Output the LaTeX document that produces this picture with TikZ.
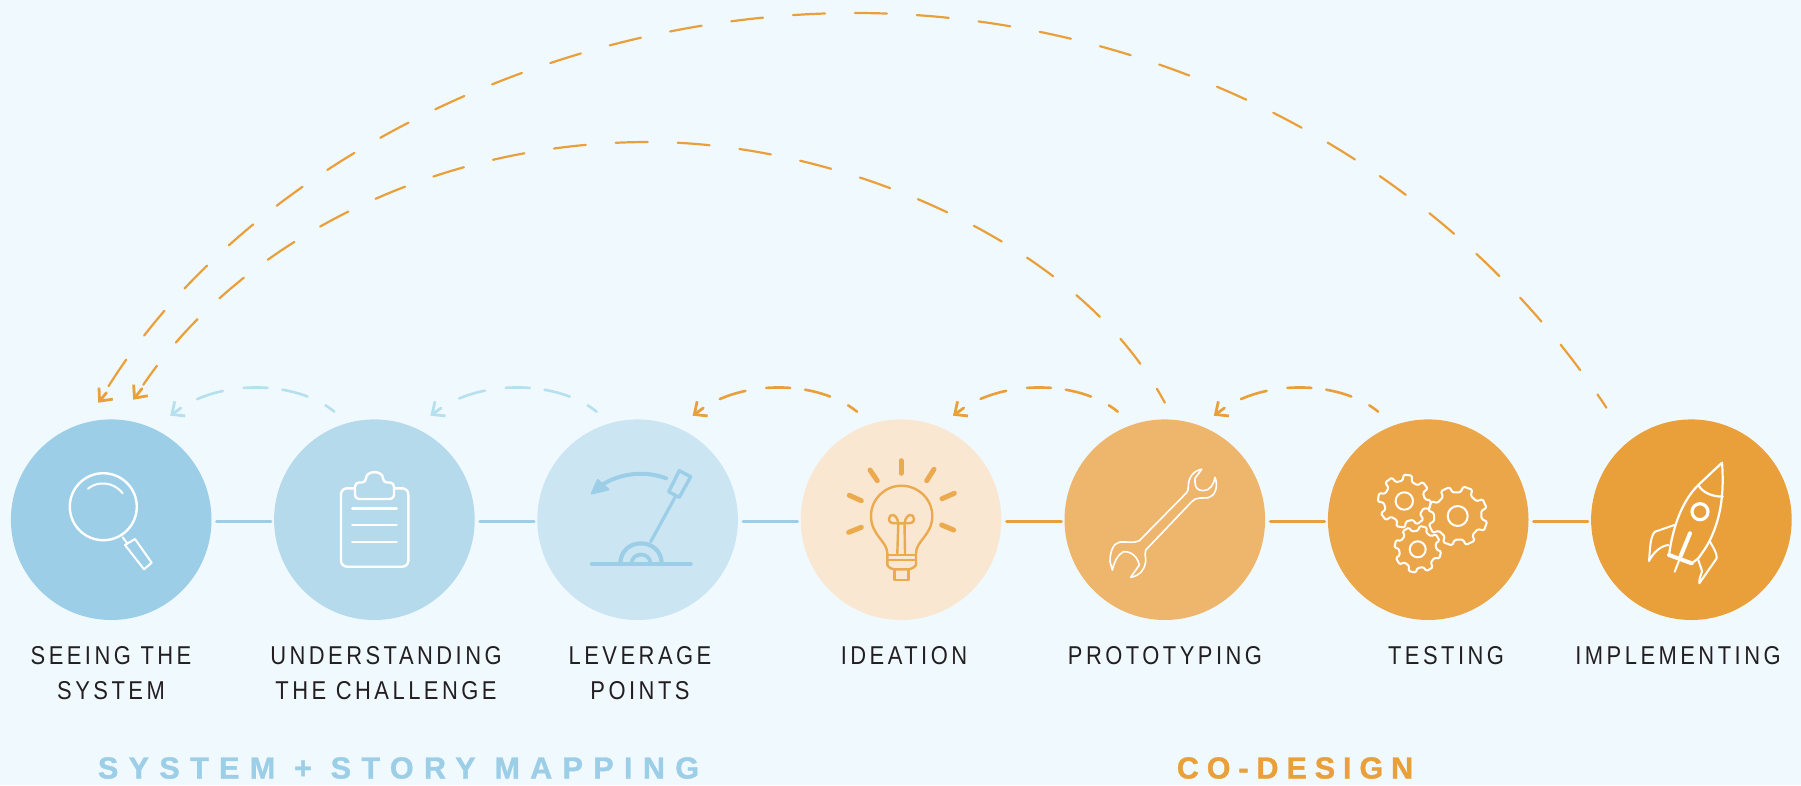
\documentclass[tikz,border=0pt]{standalone}
\usepackage{fontspec}
\usetikzlibrary{arrows.meta,calc}
\newfontfamily\lblfont[FakeStretch=0.85,LetterSpace=13.5]{Liberation Sans}
\newfontfamily\headfont[FakeBold=1.2,LetterSpace=34]{Liberation Sans Bold}
\newfontfamily\headfontb[FakeBold=1.2,LetterSpace=26]{Liberation Sans Bold}
\definecolor{bg}{HTML}{F0F9FE}
\definecolor{cA}{HTML}{9CCEE7}
\definecolor{cB}{HTML}{B5DAEC}
\definecolor{cC}{HTML}{CCE5F2}
\definecolor{cD}{HTML}{F9E7D2}
\definecolor{cE}{HTML}{EEB66D}
\definecolor{cF}{HTML}{ECA64A}
\definecolor{cG}{HTML}{EAA03A}
\definecolor{lblue}{HTML}{B5E0EE}
\definecolor{ink}{HTML}{231F20}
\tikzset{
  disc/.style={circle,inner sep=0pt,minimum size=200.6pt,fill=#1},
  link/.style={line width=3pt,draw=#1,shorten <=5pt,shorten >=3pt,line cap=round},
  looporange/.style={draw=cG,line width=2.6pt,line cap=round,dash pattern=on 11pt off 20pt on 26pt off 15pt on 24pt off 21pt on 27pt off 200pt},
  loopblue/.style={looporange,draw=lblue},
  bigorange/.style={draw=cG,line width=2.2pt,line cap=round,dash pattern=on 32pt off 30pt,dash phase=16pt,shorten >=18pt},
  stem/.style={draw=#1,line width=2.8pt,line cap=round,
    {Straight Barb[length=10pt,width=18pt,line width=2.8pt]}-},
  lbl/.style={anchor=north,inner sep=0pt,align=center,text=ink,font=\lblfont\fontsize{25.8}{35}\selectfont},
  head/.style={anchor=north,inner sep=0pt,font=\fontsize{30.5}{36}\selectfont},
  ico/.style={draw=white,line width=2.4pt,line join=round,line cap=round},
  thin/.style={draw=white,line width=1.6pt,line join=round,line cap=round},
  bulb/.style={draw=cG!90!white,line width=2.4pt,line join=round,line cap=round},
  ray/.style={draw=cG!90!white,line width=5pt,line cap=round},
  lev/.style={draw=cA,line cap=round,line join=round}
}
\newcommand{\gearicon}[6]{%
  \draw[thin,line width=2pt,rounded corners=1.3pt]
    ({#1+#3*cos(#5-13)},{#2+#3*sin(#5-13)})
    \foreach \k in {0,...,7}{
      -- ({#1+#4*cos(#5+45*\k-9)},{#2+#4*sin(#5+45*\k-9)})
      -- ({#1+#4*cos(#5+45*\k+9)},{#2+#4*sin(#5+45*\k+9)})
      -- ({#1+#3*cos(#5+45*\k+13)},{#2+#3*sin(#5+45*\k+13)})
      -- ({#1+#3*cos(#5+45*\k+32)},{#2+#3*sin(#5+45*\k+32)})
    } -- cycle;
  \draw[thin,line width=2pt] (#1,#2) circle[radius=#6pt];
}
\begin{document}
\begin{tikzpicture}[x=1pt,y=-1pt]
\path[fill=bg] (0,0) rectangle (1801,785);
\useasboundingbox (0,0) rectangle (1801,785);
% discs
\node[disc=cA] (c1) at (111.2,519.7) {};
\node[disc=cB] (c2) at (374.4,519.7) {};
\node[disc=cC] (c3) at (637.6,519.7) {};
\node[disc=cD] (c4) at (901,519.7) {};
\node[disc=cE] (c5) at (1164.8,519.7) {};
\node[disc=cF] (c6) at (1428.2,519.7) {};
\node[disc=cG] (c7) at (1691.4,519.7) {};
% straight links
\draw[link=cA] ([yshift=-1.5pt]c1.east) -- ([yshift=-1.5pt]c2.west);
\draw[link=cA] ([yshift=-1.5pt]c2.east) -- ([yshift=-1.5pt]c3.west);
\draw[link=cA] ([yshift=-1.5pt]c3.east) -- ([yshift=-1.5pt]c4.west);
\draw[link=cG] ([yshift=-1.5pt]c4.east) -- ([yshift=-1.5pt]c5.west);
\draw[link=cG] ([yshift=-1.5pt]c5.east) -- ([yshift=-1.5pt]c6.west);
\draw[link=cG] ([yshift=-1.5pt]c6.east) -- ([yshift=-1.5pt]c7.west);
% free ends of the dashed loops
\coordinate (s2) at ($(c2)+(-40,-108)$);
\coordinate (e1) at ($(c1)+(59,-104)$);
\coordinate (s3) at ($(c3)+(-41,-108)$);
\coordinate (e2) at ($(c2)+(56,-104)$);
\coordinate (s4) at ($(c4)+(-44,-108)$);
\coordinate (e3) at ($(c3)+(55,-104)$);
\coordinate (s5) at ($(c5)+(-47,-108)$);
\coordinate (e4) at ($(c4)+(52,-104)$);
\coordinate (s6) at ($(c6)+(-50,-108)$);
\coordinate (e5) at ($(c5)+(49,-104)$);
\coordinate (bs1) at ($(c7)+(-85,-112)$);
\coordinate (be1) at ($(c1)+(-13,-117)$);
\coordinate (bt1) at (855,13);
\coordinate (bs2) at ($(c5)+(0,-117)$);
\coordinate (be2) at ($(c1)+(22,-120)$);
\coordinate (bt2) at (649,142);
% small loops
\draw[loopblue] (s2) .. controls +(-39,-32) and +(45,-38) .. (e1);
\draw[loopblue] (s3) .. controls +(-39,-32) and +(45,-38) .. (e2);
\draw[looporange] (s4) .. controls +(-39,-32) and +(45,-38) .. (e3);
\draw[looporange] (s5) .. controls +(-39,-32) and +(45,-38) .. (e4);
\draw[looporange] (s6) .. controls +(-39,-32) and +(45,-38) .. (e5);
\draw[stem=lblue] (e1) -- ($(e1)+(10.7,-7.7)$);
\draw[stem=lblue] (e2) -- ($(e2)+(10.7,-7.7)$);
\draw[stem=cG] (e3) -- ($(e3)+(10.7,-7.7)$);
\draw[stem=cG] (e4) -- ($(e4)+(10.7,-7.7)$);
\draw[stem=cG] (e5) -- ($(e5)+(10.7,-7.7)$);
% big loops
\draw[bigorange] (bs1) .. controls (1430,140) and (1130,13) .. (bt1) .. controls (555,13) and (248,163) .. (be1);
\draw[bigorange] (bs2) .. controls (1075,235) and (830,142) .. (bt2) .. controls (430,142) and (238,245) .. (be2);
\draw[stem=cG] (be1) -- ($(be1)+(8.3,-10)$);
\draw[stem=cG] (be2) -- ($(be2)+(8.7,-11)$);
% labels
\node[lbl] (l1) at (111,646) {SEEING THE\\SYSTEM};
\node[lbl] (l2) at (386,646) {UNDERSTANDING\\THE CHALLENGE};
\node[lbl] (l3) at (640,646) {LEVERAGE\\POINTS};
\node[lbl] (l4) at (904,646) {IDEATION};
\node[lbl] (l5) at (1165,646) {PROTOTYPING};
\node[lbl] (l6) at (1446,646) {TESTING};
\node[lbl] (l7) at (1678,646) {IMPLEMENTING};
\node[head,text=cA] (h1) at (398.5,757) {\headfont SYSTEM + STORY MAPPING};
\node[head,text=cG] (h2) at (1295,757) {\headfontb CO-DESIGN};
% magnifier
\draw[ico] (103.3,506.7) circle[radius=33.5pt];
\draw[ico,line width=2pt] (88,488.7) .. controls (97,481) and (113,481) .. (122.7,493.3);
\draw[ico,line width=2pt] (122.7,537.3) -- (127,543);
\draw[ico,line width=2pt] (125,545) -- (135,539) -- (151.7,562.7) -- (144,569.3) -- cycle;
% clipboard
\draw[ico,rounded corners=6pt] (341,488.3) rectangle (408.3,566.7);
\draw[ico,fill=cB,rounded corners=4pt] (355,482.5) -- (366,482.5) .. controls (366,470) and (383,470) .. (383,482.5) -- (394,482.5) -- (394,499) -- (355,499) -- cycle;
\draw[ico] (352.3,508.3) -- (396.7,508.3);
\draw[ico] (352.3,525) -- (396.7,525);
\draw[ico] (352.3,541.7) -- (396.7,541.7);
% lever
\draw[lev,line width=4pt] (591.7,564) -- (690.7,564);
\draw[lev,line width=4.2pt] (620.3,564) .. controls (620.3,536.5) and (661.7,536.5) .. (661.7,564);
\draw[lev,line width=3.8pt] (631.5,564) .. controls (631.5,551.4) and (650.5,551.4) .. (650.5,564);
\draw[lev,line width=3.2pt] (650.7,541.7) -- (675,497.3);
\draw[lev,line width=3.4pt] (679.3,470.7) -- (690.7,476.7) -- (679.3,497.3) -- (668.7,491.7) -- cycle;
\draw[lev,line width=4pt] (666,478.3) .. controls (650,472) and (625,471) .. (603.3,484);
\fill[cA,draw=cA,line width=2pt,line join=round] (591.7,493.5) -- (597.8,480) -- (608.5,489.5) -- cycle;
% bulb
\draw[bulb] (887.3,565) -- (887.3,553) .. controls (887,541) and (871,535) .. (871,516) .. controls (871,499) and (885,485.7) .. (901.5,485.7) .. controls (918,485.7) and (932.3,499) .. (932.3,516) .. controls (932.3,535) and (916,541) .. (916,553) -- (916,565) .. controls (914,568) and (910,569.3) .. (908.3,569.3) -- (894.3,569.3) .. controls (892,569.3) and (889,568) .. (887.3,565) -- cycle;
\draw[bulb] (887.3,555) -- (916,555);
\draw[bulb] (887.3,560) -- (916,560);
\draw[bulb] (894.3,569.3) -- (894.3,580) -- (908.3,580) -- (908.3,569.3);
\draw[bulb] (897.3,553.3) -- (898.3,523.3);
\draw[bulb] (905,553.3) -- (904.5,523.3);
\draw[bulb] (898.3,523.3) .. controls (897,513) and (889,513) .. (889,519) .. controls (889,523) and (892,523.5) .. (898.3,523.3) -- (904.5,523.3) .. controls (906,513) and (914,513) .. (914,519) .. controls (914,523) and (911,523.5) .. (904.5,523.3);
\draw[ray] (901,460.7) -- (901,473.3);
\draw[ray] (870,470) -- (877.3,480.7);
\draw[ray] (934,469.3) -- (926.7,480.7);
\draw[ray] (849.3,495.3) -- (861.3,500.7);
\draw[ray] (954.3,493.3) -- (942,498.7);
\draw[ray] (848.7,532.3) -- (861.3,527.3);
\draw[ray] (953.7,530) -- (941.7,525);
% wrench
\draw[thin] (1201.7,469.3) .. controls (1192,471) and (1188.3,479) .. (1188.3,486.7) .. controls (1188.3,490) and (1187.5,492) .. (1186,493.3) -- (1139.3,540.7) .. controls (1134,543.5) and (1127,541.5) .. (1120,542) .. controls (1113,543) and (1110,552) .. (1110,561.7) -- (1112.3,570) .. controls (1114,563) and (1117,555) .. (1123.3,551.7) .. controls (1128,551) and (1137,554) .. (1139.3,565) -- (1130.7,577.3) .. controls (1140,576) and (1145.7,568) .. (1145.7,560) .. controls (1145.7,556) and (1144,553) .. (1145.7,550) -- (1191.7,501.7) .. controls (1196,496.5) and (1203,498.5) .. (1208.3,497.7) .. controls (1214,496.5) and (1219,488) .. (1215,477.3) .. controls (1214,484) and (1210,490.7) .. (1203.3,490.7) .. controls (1198,490.5) and (1195,488) .. (1195,482) -- (1195,478.3) -- cycle;
% gears
\gearicon{1404.3}{501}{20.5}{26.5}{8}{8.7}
\gearicon{1457.7}{516}{24}{30}{20}{10}
\gearicon{1417.7}{549.3}{18.7}{23.5}{14}{8}
% rocket
\draw[ico,line width=2.2pt] (1669,555) .. controls (1673,525) and (1683,500) .. (1698.3,485) -- (1722,462.7) .. controls (1724,490) and (1722,515) .. (1710,540) .. controls (1706,548) and (1702,553) .. (1698.3,558.3) -- (1691.7,563.3);
\draw[ico,line width=2.2pt] (1698.3,485) .. controls (1702,492) and (1712,497) .. (1722.7,496.5);
\draw[ico,line width=4pt] (1669,555) -- (1691.7,563.3);
\draw[ico,line width=3.2pt] (1700,511.7) circle[radius=8pt];
\draw[ico,line width=4pt] (1690,533.3) -- (1680.7,556);
\draw[ico,line width=2pt] (1680.7,556) -- (1674.7,571.7);
\draw[ico,line width=2pt] (1674.3,525) -- (1655,531.7) .. controls (1650,536) and (1650,550) .. (1649,561) .. controls (1653,553) and (1660,546) .. (1668.3,545);
\draw[ico,line width=2pt] (1710,541.7) .. controls (1714,549) and (1717,553) .. (1716.7,558.3) -- (1699.3,583.3) .. controls (1699,576) and (1703,572) .. (1701.7,570) -- (1698.3,560);
\end{tikzpicture}
\end{document}
